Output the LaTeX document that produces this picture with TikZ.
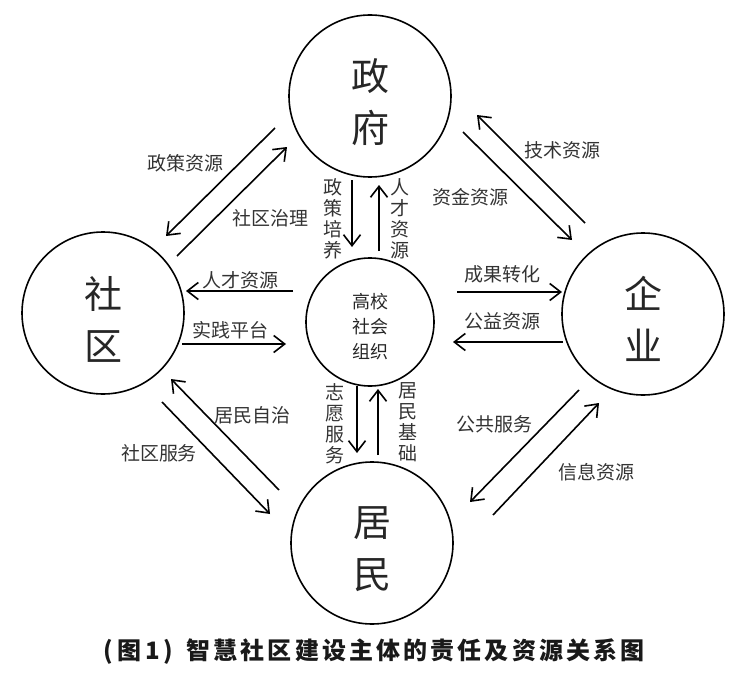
\documentclass[tikz,border=0pt]{standalone}
\usepackage{fontspec}
\setmainfont{Noto Sans CJK SC}
\newfontfamily\capfont[LetterSpace=13]{Noto Sans CJK SC}
\usetikzlibrary{arrows.meta,calc}
\begin{document}
\begin{tikzpicture}[x=1pt,y=-1pt,
  ent/.style={circle,draw,line width=1.6pt,minimum size=162pt,inner sep=0pt},
  mid/.style={circle,draw,line width=1.6pt,minimum size=128pt,inner sep=0pt},
  big/.style={font=\fontsize{38}{52}\selectfont,align=center,inner sep=0pt,text=black!85},
  midtxt/.style={font=\fontsize{18}{25}\selectfont,align=center,inner sep=0pt,text=black!85},
  lab/.style={font=\fontsize{19}{21}\selectfont,text=black!80,inner sep=0pt},
  vlab/.style={lab,align=center},
  arr/.style={line width=1.6pt,-{Straight Barb[length=11pt,width=17pt,line width=1.6pt]}}]
\useasboundingbox (0,0) rectangle (748,685);
% circles
\node[ent] (zf) at (370,96) {};
\node[ent] (sq) at (103,313) {};
\node[ent] (qy) at (643,314) {};
\node[ent] (jm) at (372,543) {};
\node[mid] (gx) at (370,322) {};
% circle texts
\node[big] (zft) at (370,102.5) {政\\府};
\node[big] (sqt) at (103,319) {社\\区};
\node[big] (qyt) at (643,318.5) {企\\业};
\node[big] (jmt) at (372,549.5) {居\\民};
\node[midtxt] (gxt) at (370,327) {高校\\社会\\组织};
% arrow end points
\coordinate (a1s) at (275,128); \coordinate (a1e) at (166,236);
\coordinate (a2s) at (177,256); \coordinate (a2e) at (287,147);
\coordinate (a3s) at (352,180); \coordinate (a3e) at (352,247);
\coordinate (a4s) at (379,251); \coordinate (a4e) at (379,185);
\coordinate (a5s) at (293,291); \coordinate (a5e) at (186,291);
\coordinate (a6s) at (182,344); \coordinate (a6e) at (286,344);
\coordinate (a7s) at (457,292); \coordinate (a7e) at (562,292);
\coordinate (a8s) at (563,342); \coordinate (a8e) at (453,342);
\coordinate (a9s) at (463,132); \coordinate (a9e) at (572,240);
\coordinate (a10s) at (585,223); \coordinate (a10e) at (477,115);
\coordinate (a11s) at (279,490); \coordinate (a11e) at (171,379);
\coordinate (a12s) at (162,402); \coordinate (a12e) at (270,514);
\coordinate (a13s) at (357,386); \coordinate (a13e) at (357,453);
\coordinate (a14s) at (378,455); \coordinate (a14e) at (378,389);
\coordinate (a15s) at (579,390); \coordinate (a15e) at (470,502);
\coordinate (a16s) at (493,515); \coordinate (a16e) at (599,403);
% arrows
\draw[arr] (a1s) -- (a1e);
\draw[arr] (a2s) -- (a2e);
\draw[arr] (a3s) -- (a3e);
\draw[arr] (a4s) -- (a4e);
\draw[arr] (a5s) -- (a5e);
\draw[arr] (a6s) -- (a6e);
\draw[arr] (a7s) -- (a7e);
\draw[arr] (a8s) -- (a8e);
\draw[arr] (a9s) -- (a9e);
\draw[arr] (a10s) -- (a10e);
\draw[arr] (a11s) -- (a11e);
\draw[arr] (a12s) -- (a12e);
\draw[arr] (a13s) -- (a13e);
\draw[arr] (a14s) -- (a14e);
\draw[arr] (a15s) -- (a15e);
\draw[arr] (a16s) -- (a16e);
% labels
\node[lab] (l1) at (185,163) {政策资源};
\node[lab] (l2) at (270,218) {社区治理};
\node[vlab] (l3) at (333,219) {政\\策\\培\\养};
\node[vlab] (l4) at (400,219) {人\\才\\资\\源};
\node[lab] (l5) at (240,280) {人才资源};
\node[lab] (l6) at (230,330) {实践平台};
\node[lab] (l7) at (502,274) {成果转化};
\node[lab] (l8) at (502,321) {公益资源};
\node[lab] (l9) at (470,197) {资金资源};
\node[lab] (l10) at (562,150) {技术资源};
\node[lab] (l11) at (252,415) {居民自治};
\node[lab] (l12) at (159,453) {社区服务};
\node[vlab] (l13) at (335,424) {志\\愿\\服\\务};
\node[vlab] (l14) at (408,422) {居\\民\\基\\础};
\node[lab] (l15) at (494,424) {公共服务};
\node[lab] (l16) at (596,472) {信息资源};
% caption
\node[font=\capfont\bfseries\fontsize{24}{26}\selectfont,inner sep=0pt,text=black!90] (cap) at (374,652) {(\,图\,1\,)\;\;智慧社区建设主体的责任及资源关系图};
\end{tikzpicture}
\end{document}
